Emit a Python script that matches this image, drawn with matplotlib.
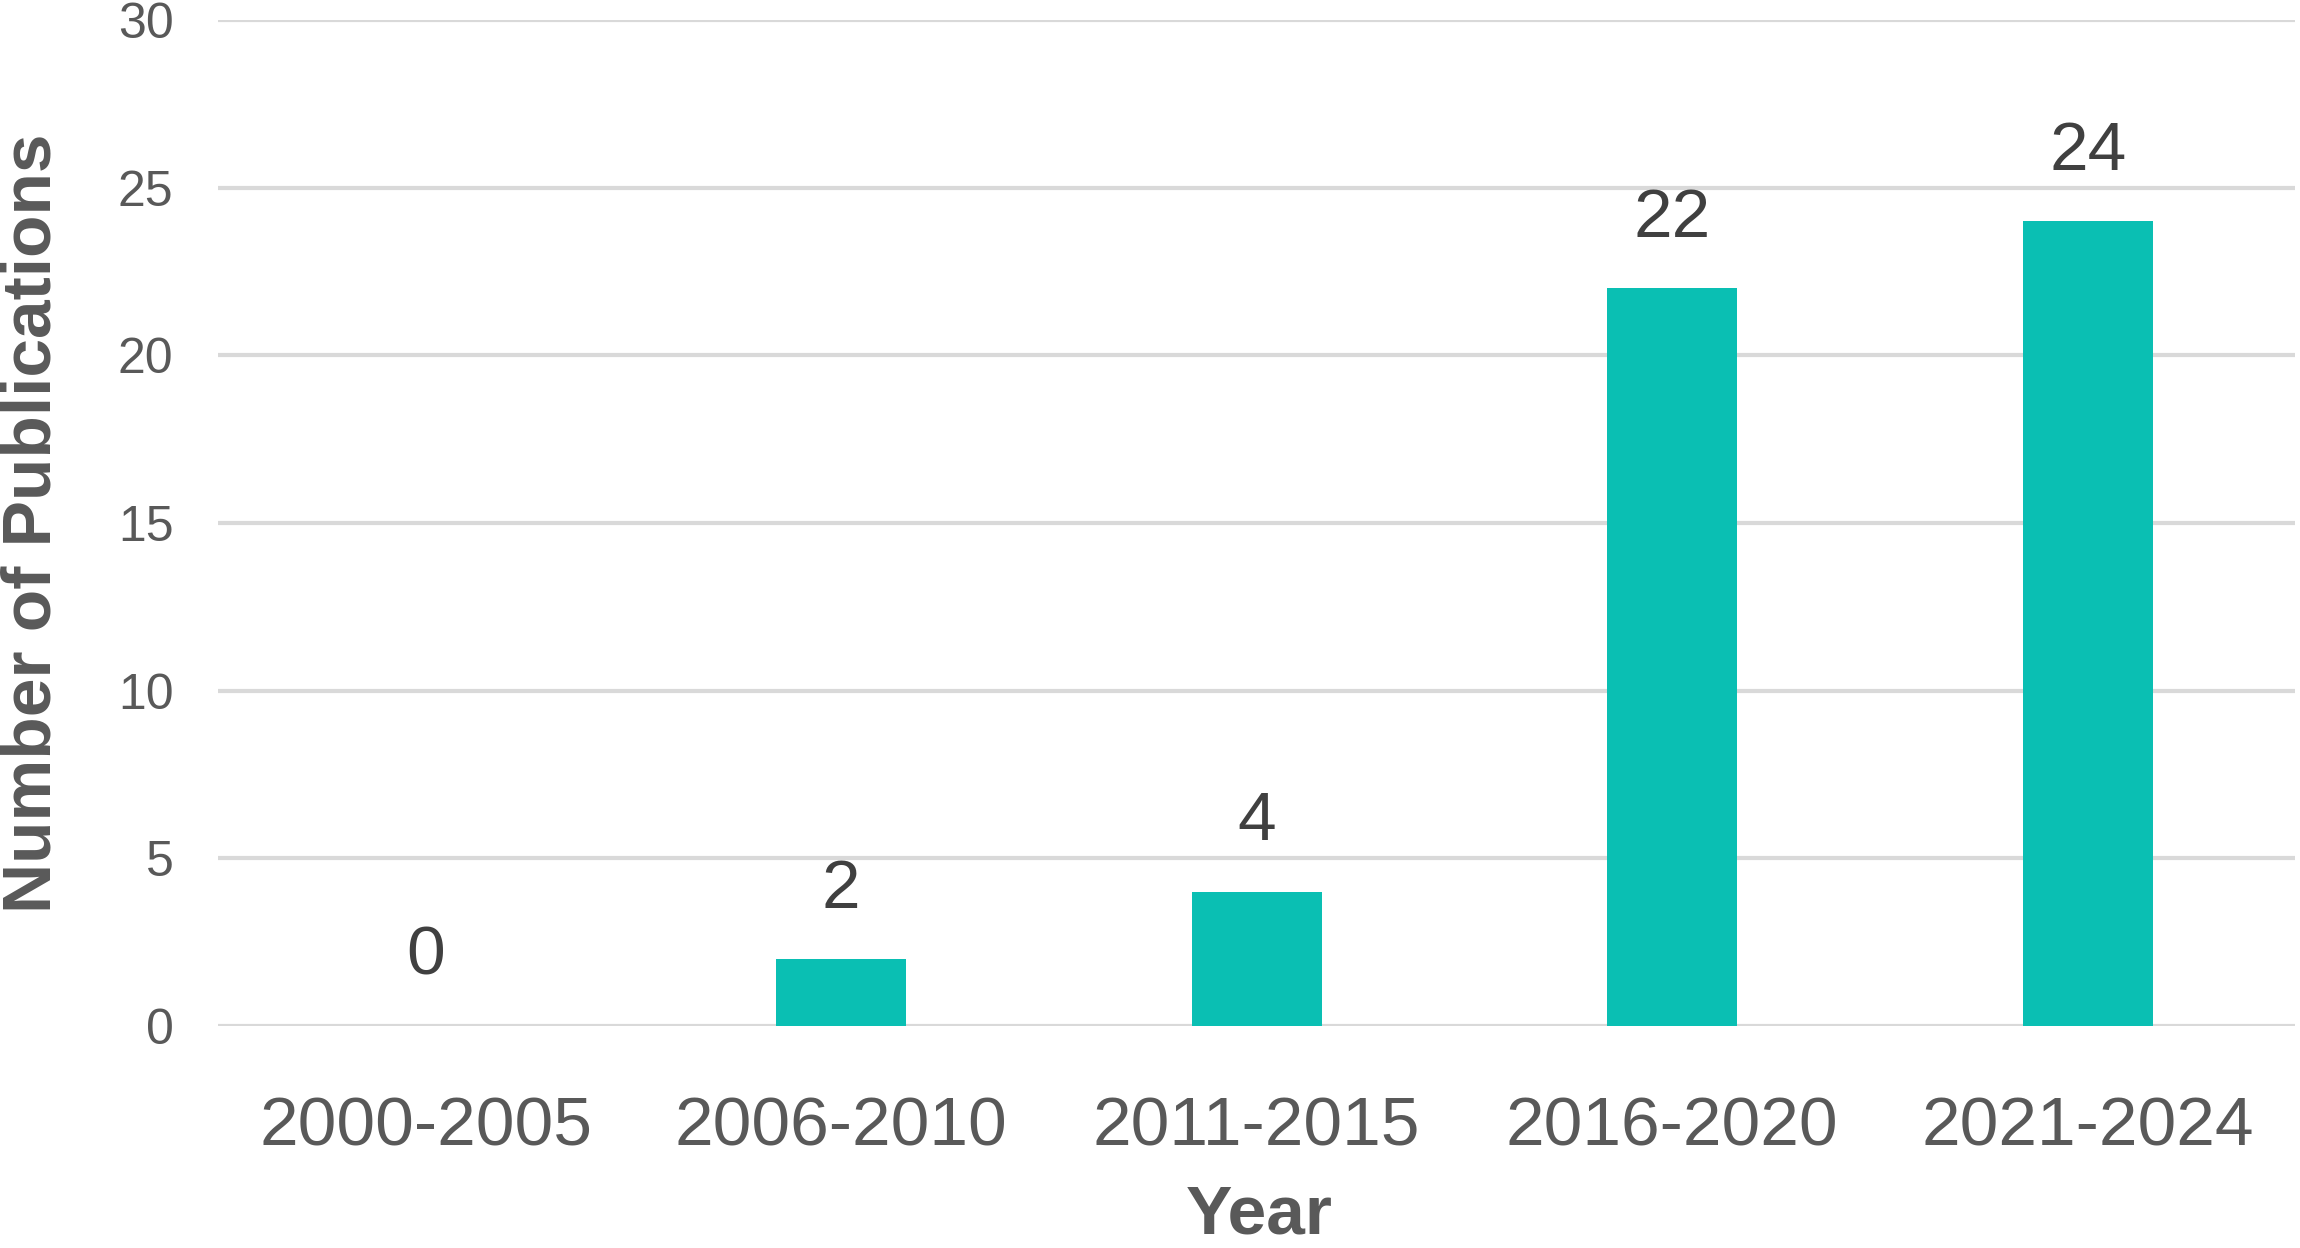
import numpy as np
import matplotlib
matplotlib.use('Agg')
import matplotlib.pyplot as plt

plt.rcParams['font.family'] = ['Liberation Sans', 'DejaVu Sans']

# data
periods = ['2000-2005', '2006-2010', '2011-2015', '2016-2020', '2021-2024']
publications = [0, 2, 4, 22, 24]
yticks = [0, 5, 10, 15, 20, 25, 30]

bar_color = '#0ABFB3'
grid_color = '#D9D9D9'
text_color = '#595959'
label_color = '#404040'

fig = plt.figure(figsize=(23, 12.48), dpi=100)
ax = fig.add_axes([0.0948, 0.1779, 0.9032, 0.8061])

x = np.arange(len(periods))
bars = ax.bar(x, publications, width=0.313, color=bar_color, zorder=3)

# value labels above bars
for xi, v in zip(x, publications):
    ax.annotate(str(v), (xi, v), xytext=(0, 37), textcoords='offset points',
                ha='center', va='baseline', fontsize=50, color=label_color)

ax.set_xlim(-0.5, len(periods) - 0.5)
ax.set_ylim(0, 30)
ax.set_yticks(yticks)
ax.set_xticks(x)
ax.set_xticklabels(periods)

ax.yaxis.grid(True, color=grid_color, linewidth=3, zorder=0)
ax.set_axisbelow(True)
for s in ax.spines.values():
    s.set_visible(False)
ax.tick_params(axis='y', length=0, pad=32, labelsize=36, labelcolor=text_color)
ax.tick_params(axis='x', length=0, pad=50, labelsize=50, labelcolor=text_color)

# axis titles
fig.text(1259 / 2300, 0.5 / 1248, 'Year', ha='center', va='bottom',
         fontsize=50, fontweight='bold', color=text_color)
fig.text(51 / 2300, 1 - 523 / 1248, 'Number of Publications', rotation=90,
         rotation_mode='anchor', ha='center', va='baseline',
         fontsize=50, fontweight='bold', color=text_color)

fig.savefig('out.png', dpi=100)
